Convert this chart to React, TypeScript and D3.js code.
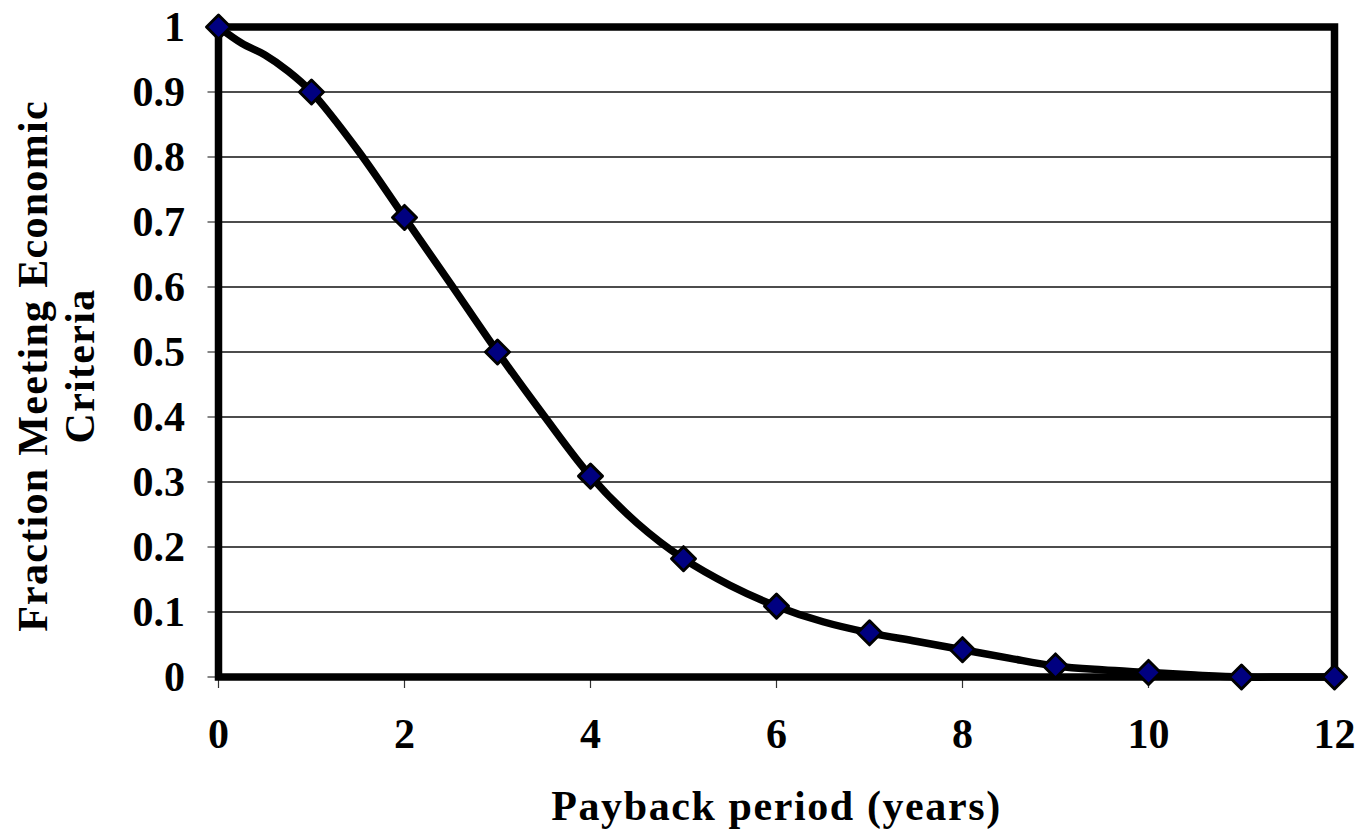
import React from "react";
import * as d3 from "d3";

const markerYears = [0, 1, 2, 3, 4, 5, 6, 7, 8, 9, 10, 11, 12];
const markerFractions = [1.0, 0.9, 0.707, 0.5, 0.309, 0.182, 0.109, 0.068, 0.042, 0.017, 0.007, 0.0, 0.0];

const curveYears = [0, 0.25, 0.5, 0.75, 1, 1.5, 2, 2.5, 3, 3.5, 4, 4.5, 5, 5.5, 6, 6.5, 7, 7.5, 8, 8.5, 9, 9.5, 10, 10.5, 11, 11.5, 12];
const curveFractions = [1.0, 0.975, 0.957, 0.932, 0.9, 0.81, 0.707, 0.604, 0.5, 0.402, 0.309, 0.237, 0.182, 0.141, 0.109, 0.085, 0.068, 0.055, 0.042, 0.029, 0.017, 0.011, 0.007, 0.003, 0.0, 0.0, 0.0];

const xTicks = [0, 2, 4, 6, 8, 10, 12];
const yTicks = [0, 0.1, 0.2, 0.3, 0.4, 0.5, 0.6, 0.7, 0.8, 0.9, 1];
const yTickLabels = ["0", "0.1", "0.2", "0.3", "0.4", "0.5", "0.6", "0.7", "0.8", "0.9", "1"];

const xTitle = "Payback period (years)";
const yTitleLines = ["Fraction Meeting Economic", "Criteria"];

export default function App() {
  const W = 1361;
  const H = 829;
  const left = 218.5;
  const right = 1334.5;
  const top = 27;
  const bottom = 677;

  const x = d3.scaleLinear().domain([0, 12]).range([left, right]);
  const y = d3.scaleLinear().domain([0, 1]).range([bottom, top]);

  const line = d3
    .line<number>()
    .x((_, i) => x(curveYears[i]))
    .y((d) => y(d))
    .curve(d3.curveCatmullRom.alpha(0.5));

  const pathD = line(curveFractions) || "";
  const font = "'Liberation Serif', 'Times New Roman', serif";
  const r = 12;

  return (
    <svg
      width={W}
      height={H}
      style={{ position: "absolute", left: 0, top: 0, background: "#fff" }}
    >
      <rect x={0} y={0} width={W} height={H} fill="#fff" />
      {yTicks.map((t) => (
        <line
          key={"g" + t}
          x1={left}
          x2={right}
          y1={y(t)}
          y2={y(t)}
          stroke="#111"
          strokeWidth={1.3}
        />
      ))}
      {yTicks.map((t) => (
        <line
          key={"yt" + t}
          x1={left - 11}
          x2={left}
          y1={y(t)}
          y2={y(t)}
          stroke="#333"
          strokeWidth={1.2}
        />
      ))}
      {xTicks.map((t) => (
        <line
          key={"xt" + t}
          x1={x(t)}
          x2={x(t)}
          y1={bottom}
          y2={bottom + 11}
          stroke="#333"
          strokeWidth={1.2}
        />
      ))}
      <rect
        x={left}
        y={top}
        width={right - left}
        height={bottom - top}
        fill="none"
        stroke="#000"
        strokeWidth={7.5}
      />
      {yTicks.map((t, i) => (
        <text
          key={"yl" + t}
          x={185}
          y={y(t)}
          dy="0.34em"
          textAnchor="end"
          fontFamily={font}
          fontWeight="bold"
          fontSize={42}
          fill="#000"
        >
          {yTickLabels[i]}
        </text>
      ))}
      {xTicks.map((t) => (
        <text
          key={"xl" + t}
          x={x(t)}
          y={748}
          textAnchor="middle"
          fontFamily={font}
          fontWeight="bold"
          fontSize={42}
          fill="#000"
        >
          {t}
        </text>
      ))}
      <path d={pathD} fill="none" stroke="#000" strokeWidth={7.5} strokeLinejoin="round" strokeLinecap="round" />
      {markerYears.map((yr, i) => {
        const cx = x(yr);
        const cy = y(markerFractions[i]);
        return (
          <path
            key={"m" + yr}
            d={`M${cx},${cy - r}L${cx + r},${cy}L${cx},${cy + r}L${cx - r},${cy}Z`}
            fill="#000080"
            stroke="#000"
            strokeWidth={3}
            strokeLinejoin="round"
          />
        );
      })}
      <text
        x={(left + right) / 2}
        y={820}
        textAnchor="middle"
        fontFamily={font}
        fontWeight="bold"
        fontSize={42}
        letterSpacing={1.6}
        fill="#000"
      >
        {xTitle}
      </text>
      <g transform={`translate(47,366) rotate(-90)`}>
        <text
          x={0}
          y={0}
          textAnchor="middle"
          fontFamily={font}
          fontWeight="bold"
          fontSize={42}
          letterSpacing={1.3}
          fill="#000"
        >
          {yTitleLines[0]}
        </text>
        <text
          x={0}
          y={47}
          textAnchor="middle"
          fontFamily={font}
          fontWeight="bold"
          fontSize={42}
          letterSpacing={1.3}
          fill="#000"
        >
          {yTitleLines[1]}
        </text>
      </g>
    </svg>
  );
}
